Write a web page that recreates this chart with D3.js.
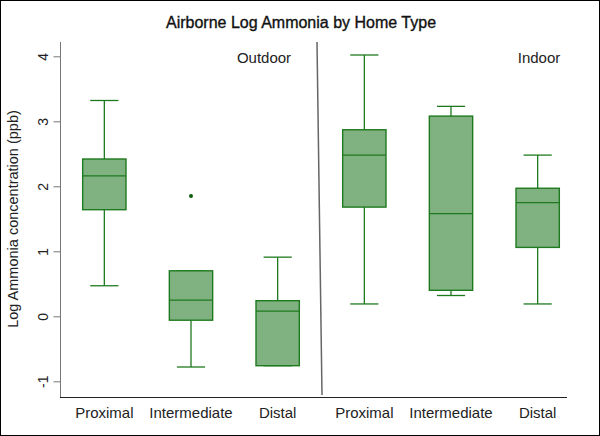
<!DOCTYPE html>
<html>
<head>
<meta charset="utf-8">
<script src="https://d3js.org/d3.v7.min.js"></script>
<style>
  body { margin: 0; background: #fff; }
  svg { display: block; font-family: "Liberation Sans", Arial, sans-serif; }
  .box rect { fill: #80b180; stroke: #1e7a1e; stroke-width: 1.4px; }
  .box line { stroke: #1e7a1e; stroke-width: 1.3px; }
  .yaxis .tick line { stroke: #777; }
  .yaxis text { fill: #222; font-size: 14px; }
  .xaxis text { fill: #222; font-size: 15px; }
</style>
</head>
<body>
<script>

// one entry per box, outdoor first then indoor
var groups = ["Outdoor", "Outdoor", "Outdoor", "Indoor", "Indoor", "Indoor"];
var types  = ["Proximal", "Intermediate", "Distal", "Proximal", "Intermediate", "Distal"];

var whiskerLow  = [0.47, -0.78, -0.76, 0.19, 0.32, 0.19];
var q1          = [1.64, -0.06, -0.76, 1.68, 0.40, 1.06];
var median      = [2.16,  0.25,  0.08, 2.48, 1.58, 1.75];
var q3          = [2.42,  0.70,  0.24, 2.87, 3.08, 1.97];
var whiskerHigh = [3.32,  0.70,  0.91, 4.02, 3.23, 2.48];

// outliers: [box index, value]
var outliers = [[1, 1.85]];

var yTicks = [-1, 0, 1, 2, 3, 4];

var width = 600,
    height = 436;

var svg = d3.select("body").append("svg")
    .attr("width", width)
    .attr("height", height);

// frame round the whole picture
svg.append("rect")
    .attr("x", 0.5).attr("y", 0.5)
    .attr("width", width - 1).attr("height", height - 1)
    .attr("fill", "none").attr("stroke", "#000");

var x = d3.scaleBand()
    .domain(d3.range(types.length))
    .range([61, 581])
    .paddingInner(0.5)
    .paddingOuter(0.25);

var y = d3.scaleLinear()
    .domain([-1, 4])
    .range([381.3, 56.3]);

var bw = x.bandwidth();
var capW = bw * 0.65;

// title
svg.append("text")
    .attr("x", 301).attr("y", 28)
    .attr("text-anchor", "middle")
    .attr("font-size", "16px")
    .attr("fill", "#111")
    .attr("stroke", "#111")
    .attr("stroke-width", 0.35)
    .text("Airborne Log Ammonia by Home Type");

// y axis
svg.append("line")
    .attr("x1", 60.5).attr("x2", 60.5)
    .attr("y1", 42).attr("y2", 397)
    .attr("stroke", "#777");

var yAxis = svg.append("g")
    .attr("class", "yaxis")
    .attr("transform", "translate(60.5,0)")
    .call(d3.axisLeft(y).tickValues(yTicks).tickSize(7).tickFormat(d3.format("d")));
yAxis.select(".domain").remove();
yAxis.selectAll("text")
    .attr("x", null).attr("dy", null)
    .attr("text-anchor", "middle")
    .attr("transform", "translate(-13,0) rotate(-90)")
    .text(function(d) { return d; });

svg.append("text")
    .attr("transform", "translate(18,219) rotate(-90)")
    .attr("text-anchor", "middle")
    .attr("font-size", "14.5px")
    .attr("fill", "#222")
    .text("Log Ammonia concentration (ppb)");

// x axis
svg.append("line")
    .attr("x1", 60).attr("x2", 567)
    .attr("y1", 397.5).attr("y2", 397.5)
    .attr("stroke", "#222");

var xAxis = svg.append("g")
    .attr("class", "xaxis")
    .attr("transform", "translate(0,397)")
    .call(d3.axisBottom(x).tickSize(0).tickFormat(function(i) { return types[i]; }));
xAxis.select(".domain").remove();
xAxis.selectAll("text").attr("y", 8).attr("dy", "0.85em");

// divider between outdoor and indoor
svg.append("line")
    .attr("x1", 317).attr("y1", 42)
    .attr("x2", 322).attr("y2", 395)
    .attr("stroke", "#666")
    .attr("stroke-width", 1.5);

svg.append("text")
    .attr("x", 264).attr("y", 63)
    .attr("text-anchor", "middle")
    .attr("font-size", "15px").attr("fill", "#222")
    .text("Outdoor");
svg.append("text")
    .attr("x", 539).attr("y", 63)
    .attr("text-anchor", "middle")
    .attr("font-size", "15px").attr("fill", "#222")
    .text("Indoor");

// boxes
var box = svg.selectAll(".box")
    .data(d3.range(types.length))
  .enter().append("g")
    .attr("class", "box");

box.append("line")
    .attr("x1", function(i) { return x(i) + bw / 2; })
    .attr("x2", function(i) { return x(i) + bw / 2; })
    .attr("y1", function(i) { return y(whiskerHigh[i]); })
    .attr("y2", function(i) { return y(whiskerLow[i]); });

box.append("line")
    .attr("x1", function(i) { return x(i) + (bw - capW) / 2; })
    .attr("x2", function(i) { return x(i) + (bw + capW) / 2; })
    .attr("y1", function(i) { return y(whiskerHigh[i]); })
    .attr("y2", function(i) { return y(whiskerHigh[i]); });

box.append("line")
    .attr("x1", function(i) { return x(i) + (bw - capW) / 2; })
    .attr("x2", function(i) { return x(i) + (bw + capW) / 2; })
    .attr("y1", function(i) { return y(whiskerLow[i]); })
    .attr("y2", function(i) { return y(whiskerLow[i]); });

box.append("rect")
    .attr("x", function(i) { return x(i); })
    .attr("width", bw)
    .attr("y", function(i) { return y(q3[i]); })
    .attr("height", function(i) { return y(q1[i]) - y(q3[i]); });

box.append("line")
    .attr("x1", function(i) { return x(i); })
    .attr("x2", function(i) { return x(i) + bw; })
    .attr("y1", function(i) { return y(median[i]); })
    .attr("y2", function(i) { return y(median[i]); });

svg.selectAll(".outlier")
    .data(outliers)
  .enter().append("circle")
    .attr("class", "outlier")
    .attr("cx", function(d) { return x(d[0]) + bw / 2; })
    .attr("cy", function(d) { return y(d[1]); })
    .attr("r", 2)
    .attr("fill", "#0e5e0e");

</script>
</body>
</html>
